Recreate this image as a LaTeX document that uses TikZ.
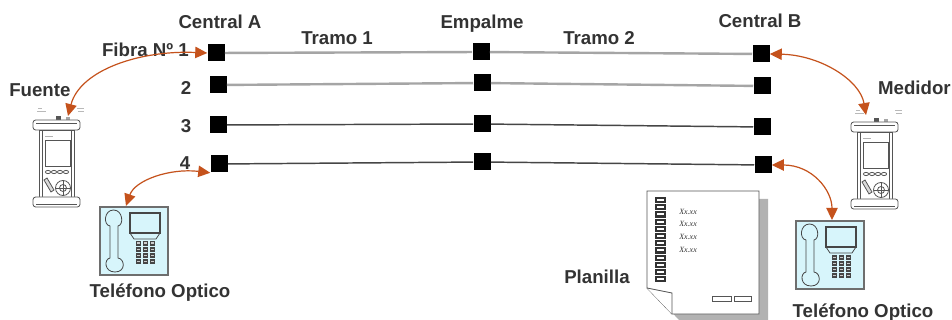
\documentclass[tikz,border=0pt]{standalone}
\usepackage{fontspec}
\setmainfont{Liberation Sans}
\newfontfamily\sheetfont{Liberation Serif}
\usetikzlibrary{arrows.meta}

\definecolor{rust}{RGB}{197,82,28}
\definecolor{ink}{RGB}{51,51,51}
\definecolor{phonefill}{RGB}{215,245,251}
\definecolor{phoneedge}{RGB}{110,110,110}
\definecolor{devedge}{RGB}{85,85,85}
\definecolor{fibrelight}{RGB}{165,165,165}
\definecolor{fibredark}{RGB}{70,70,70}

\tikzset{
  lbl/.style={font=\fontsize{14}{16}\selectfont\bfseries, text=ink, inner sep=0pt},
  splice/.style={fill=black, minimum size=12.75pt, inner sep=0pt, draw=none},
  lightfibre/.style={draw=fibrelight, line width=1.8pt},
  darkfibre/.style={draw=fibredark, line width=1.1pt},
  patch/.style={draw=rust, line width=0.9pt,
    {Triangle[length=9pt,width=8.5pt]}-{Triangle[length=9pt,width=8.5pt]}},
  dev/.style={draw=devedge, line width=0.6pt},
  % handheld power source / meter
  otdr/.pic={
    \draw[gray!55, line width=0.35pt] (5,-12)--(9,-12) (4,-9)--(13,-9)
      (44,-12)--(51,-12) (45,-9)--(51,-9);
    \fill[devedge] (23,-4) rectangle (28,0);
    \fill[gray!70] (33,-3) rectangle (37,0);
    \draw[dev, fill=white] (6,10) rectangle (41,77);
    \draw[dev] (9,10) -- (9,77) (38,10) -- (38,77);
    \draw[dev, fill=white, rounded corners=2pt] (0,0) rectangle (47,10);
    \draw[dev] (3,3) -- (44,3);
    \draw[gray!60, line width=0.5pt] (12,16) -- (20,16);
    \draw[dev, fill=white] (12,20) rectangle (37,46);
    \foreach \k in {15,21,27,33} \draw[dev] (\k,52) ellipse (2.6 and 1.6);
    \draw[dev, fill=gray!30] (11,60) -- (14,58) -- (21,70) -- (18,72) -- cycle;
    \draw[dev] (30,68) circle (7.5);
    \draw[dev] (30,68) circle (3.5);
    \draw[dev] (22.5,68)--(37.5,68) (30,60.5)--(30,75.5);
    \draw[dev, fill=white, rounded corners=2pt] (0,77) rectangle (47,87);
    \draw[dev] (3,84) -- (44,84);
  },
  % optical telephone
  handset/.pic={
    \draw[draw=phoneedge, line width=1.4pt, fill=phonefill] (0,0) rectangle (68,68);
    \draw[draw=fibredark, line width=0.6pt] (10,19) .. controls (3,18) and (4,3) .. (13.5,3)
      .. controls (23,3) and (24,18) .. (18,19) -- (18,51)
      .. controls (25,52) and (26,65) .. (15,65)
      .. controls (4,65) and (4,52) .. (10,51) -- cycle;
    \draw[draw=fibredark, line width=0.8pt, fill=phonefill] (30,6) rectangle (60,26);
    \draw[draw=fibredark, line width=0.6pt] (30,26) -- (34,32) -- (56,32) -- (60,26);
    \foreach \c in {35.5,42.5,49.5} \foreach \r in {34,40,46,52} {
      \fill[fibredark] (\c,\r) rectangle ++(5.5,4.5);
      \fill[gray!40] ({\c+1.5},{\r+1.5}) rectangle ++(2.5,1.5);
    }
  }
}

\begin{document}
\begin{tikzpicture}[x=0.75pt,y=-0.75pt]
\path[use as bounding box, fill=white] (0,0) rectangle (952,320);

% splice points at the two exchanges and the joint
\node[splice] (a1) at (216,53) {};
\node[splice] (a2) at (218,85) {};
\node[splice] (a3) at (218,125) {};
\node[splice] (a4) at (219,164) {};
\node[splice] (m1) at (481,52) {};
\node[splice] (m2) at (482,83) {};
\node[splice] (m3) at (482,124) {};
\node[splice] (m4) at (482,162) {};
\node[splice] (b1) at (761,54) {};
\node[splice] (b2) at (762,86) {};
\node[splice] (b3) at (762,127) {};
\node[splice] (b4) at (763,165) {};

% fibres
\draw[lightfibre] (a1) -- (m1) -- (b1);
\draw[lightfibre] (a2) -- (m2) -- (b2);
\draw[darkfibre] (a3) -- (m3) -- (b3);
\draw[darkfibre] (a4) -- (m4) -- (b4);

% labels
\node[lbl, anchor=base] (centralA) at (220,29) {Central A};
\node[lbl, anchor=base] (empalme) at (482,29) {Empalme};
\node[lbl, anchor=base] (centralB) at (760,28) {Central B};
\node[lbl, anchor=base west] (tramo1) at (301,45) {Tramo 1};
\node[lbl, anchor=base west] (tramo2) at (563,45) {Tramo 2};
\node[lbl, anchor=base east] (fibra) at (189,57) {Fibra Nº 1};
\node[lbl, anchor=base] (n2) at (186,95) {2};
\node[lbl, anchor=base] (n3) at (186,133) {3};
\node[lbl, anchor=base] (n4) at (185,170) {4};
\node[lbl, anchor=base west] (fuente) at (9,97) {Fuente};
\node[lbl, anchor=base east] (medidor) at (951,95) {Medidor};
\node[lbl, anchor=base] (telAlbl) at (160,297) {Teléfono Optico};
\node[lbl, anchor=base] (telBlbl) at (863,317) {Teléfono Optico};
\node[lbl, anchor=base west] (planilla) at (564,283) {Planilla};

% instruments
\pic at (33,120) {otdr};
\pic at (851,122) {otdr};
\pic at (100,207) {handset};
\pic at (796,221) {handset};

% record sheet
\fill[gray!60] (656,199) -- (768,199) -- (768,322) -- (681,322) -- (656,296) -- cycle;
\draw[dev, fill=white] (647,191) -- (759,191) -- (759,314) -- (672,314) -- (647,288) -- cycle;
\draw[dev, fill=white] (647,288) .. controls (660,290) .. (672,293) -- (672,314);
\foreach \i in {0,...,11} {
  \fill[black!80] (655,{197+7.2*\i}) rectangle ++(11,6.2);
  \fill[white] (657,{199+7.2*\i}) rectangle ++(7,2);
}
\foreach \yy in {212,224,237,250}
  \node[font=\sheetfont\itshape\fontsize{6}{7}\selectfont, text=ink, anchor=west, inner sep=0pt]
    at (679,\yy) {Xx.xx};
\draw[dev] (712,296) rectangle (731,301) (734,296) rectangle (751,301);

% patch cords
\coordinate (srcTop) at (68,116);
\coordinate (meterTop) at (866,115);
\coordinate (telA) at (126,206);
\coordinate (telB) at (832,220);
\draw[patch] (srcTop) .. controls (80,70) and (140,50) .. (a1.west);
\draw[patch] (telA) .. controls (135,180) and (170,168) .. (a4.south west);
\draw[patch] (b1.east) .. controls (820,55) and (860,80) .. (meterTop);
\draw[patch] (b4.east) .. controls (812,165) and (832,190) .. (telB);
\end{tikzpicture}
\end{document}
